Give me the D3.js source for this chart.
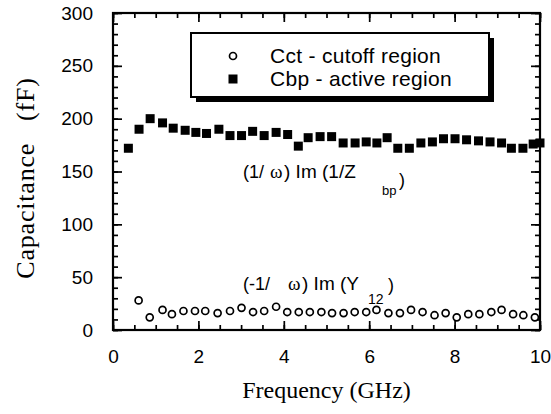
<!DOCTYPE html>
<html>
<head>
<meta charset="utf-8">
<script src="https://cdn.jsdelivr.net/npm/d3@7"></script>
<style>
  body { margin: 0; background: #fff; }
  svg { display: block; }
</style>
</head>
<body>
<div id="chart"></div>
<script>
// Cct - cutoff region : (-1/w) Im(Y12)
const cctFreq = [0.60, 0.86, 1.16, 1.38, 1.65, 1.92, 2.16, 2.45, 2.74, 3.01, 3.28, 3.54,
  3.82, 4.08, 4.35, 4.61, 4.88, 5.13, 5.40, 5.66, 5.93, 6.17, 6.45, 6.72,
  6.98, 7.25, 7.53, 7.79, 8.05, 8.32, 8.58, 8.86, 9.10, 9.37, 9.61, 9.88]
const cctCap = [28, 12, 19, 15, 18, 18, 18, 16, 18, 21, 17, 18,
  22, 17, 17, 17, 17, 16, 16, 17, 17, 19, 16, 16,
  19, 17, 14, 16, 12, 15, 15, 17, 19, 15, 14, 12]

// Cbp - active region : (1/w) Im(1/Zbp)
const cbpFreq = [0.36, 0.61, 0.87, 1.16, 1.41, 1.69, 1.94, 2.19, 2.48, 2.74, 3.01, 3.27,
  3.54, 3.82, 4.09, 4.34, 4.57, 4.85, 5.12, 5.39, 5.67, 5.93, 6.18, 6.42,
  6.67, 6.94, 7.21, 7.48, 7.74, 8.01, 8.28, 8.56, 8.83, 9.10, 9.33, 9.60, 9.84, 10.0]
const cbpCap = [172, 190, 200, 196, 191, 189, 187, 186, 190, 184, 184, 188,
  184, 187, 185, 174, 182, 183, 183, 177, 177, 178, 177, 182,
  172, 172, 177, 178, 181, 181, 180, 179, 178, 177, 172, 172, 176, 177]

const xTicks = [0, 2, 4, 6, 8, 10]
const yTicks = [0, 50, 100, 150, 200, 250, 300]
const legendLabels = ['Cct - cutoff region', 'Cbp - active region']

const width = 551
const height = 414
const margin = { left: 113, right: 11, top: 13, bottom: 84 }
const innerW = width - margin.left - margin.right
const innerH = height - margin.top - margin.bottom
const sans = "'Liberation Sans', Arial, sans-serif"
const serif = "'Liberation Serif', 'Times New Roman', serif"

const svg = d3.select('#chart')
  .append('svg')
  .attr('width', width)
  .attr('height', height)

const g = svg.append('g')
  .attr('transform', `translate(${margin.left},${margin.top})`)

const x = d3.scaleLinear().domain([0, 10]).range([0, innerW])
const y = d3.scaleLinear().domain([0, 300]).range([innerH, 0])

// major + minor ticks on all four sides, pointing inward
function drawAxis (axisFn, scale, pos, major, minor, labels) {
  const gMinor = g.append('g')
    .attr('transform', pos)
    .call(axisFn(scale).tickValues(minor).tickSize(-5).tickFormat(''))
  gMinor.select('.domain').remove()
  const gMajor = g.append('g')
    .attr('transform', pos)
    .call(axisFn(scale).tickValues(major).tickSize(-9).tickPadding(labels ? 20 : 0)
      .tickFormat(labels ? d3.format('d') : ''))
  gMajor.select('.domain').remove()
  g.selectAll('.tick line').attr('stroke', '#000').attr('stroke-width', 1.7)
  gMajor.selectAll('text')
    .attr('font-family', sans)
    .attr('font-size', 19)
    .attr('fill', '#000')
}

drawAxis(d3.axisBottom, x, `translate(0,${innerH})`, xTicks, x.ticks(20), true)
drawAxis(d3.axisTop, x, 'translate(0,0)', xTicks, x.ticks(20), false)
drawAxis(d3.axisLeft, y, 'translate(0,0)', yTicks, y.ticks(30), true)
drawAxis(d3.axisRight, y, `translate(${innerW},0)`, yTicks, y.ticks(30), false)

g.append('rect')
  .attr('width', innerW)
  .attr('height', innerH)
  .attr('fill', 'none')
  .attr('stroke', '#000')
  .attr('stroke-width', 2.2)

// data
g.selectAll('.cbp')
  .data(cbpFreq.map((f, i) => ({ f, c: cbpCap[i] })))
  .enter()
  .append('rect')
  .attr('class', 'cbp')
  .attr('x', d => x(d.f) - 4.5)
  .attr('y', d => y(d.c) - 4.5)
  .attr('width', 9)
  .attr('height', 9)
  .attr('fill', '#000')

g.selectAll('.cct')
  .data(cctFreq.map((f, i) => ({ f, c: cctCap[i] })))
  .enter()
  .append('circle')
  .attr('class', 'cct')
  .attr('cx', d => x(d.f))
  .attr('cy', d => y(d.c))
  .attr('r', 3.5)
  .attr('fill', '#fff')
  .attr('stroke', '#000')
  .attr('stroke-width', 1.7)

// legend box with drop shadow
const leg = svg.append('g').attr('transform', 'translate(191,33)')
leg.append('rect')
  .attr('x', 5).attr('y', 5)
  .attr('width', 298).attr('height', 64)
  .attr('fill', '#000')
leg.append('rect')
  .attr('width', 298).attr('height', 64)
  .attr('fill', '#fff')
  .attr('stroke', '#000')
  .attr('stroke-width', 2)
leg.append('circle')
  .attr('cx', 42).attr('cy', 23).attr('r', 3.5)
  .attr('fill', '#fff').attr('stroke', '#000').attr('stroke-width', 1.7)
leg.append('rect')
  .attr('x', 37.5).attr('y', 41.5).attr('width', 9).attr('height', 9)
  .attr('fill', '#000')
leg.selectAll('.lab')
  .data(legendLabels)
  .enter()
  .append('text')
  .attr('x', 79)
  .attr('y', (d, i) => 30 + i * 23)
  .attr('font-family', sans)
  .attr('font-size', 21)
  .attr('letter-spacing', 0.3)
  .text(d => d)

// annotations
function annot (parts) {
  const t = svg.append('text').attr('font-family', sans).attr('font-size', 18)
  parts.forEach(p => {
    t.append('tspan')
      .attr('x', p.x).attr('y', p.y)
      .attr('font-size', p.size || 18)
      .attr('font-family', p.serif ? serif : sans)
      .text(p.s)
  })
}
annot([
  { s: '(1/', x: 243, y: 178 },
  { s: 'ω', x: 270, y: 178, serif: true, size: 19 },
  { s: ') Im (1/Z', x: 284, y: 178, size: 19 },
  { s: 'bp', x: 382, y: 195, size: 13 },
  { s: ')', x: 399, y: 186 }
])
annot([
  { s: '(-1/', x: 243, y: 290 },
  { s: 'ω', x: 288, y: 290, serif: true, size: 19 },
  { s: ') Im (Y', x: 302, y: 290, size: 19 },
  { s: '12', x: 368, y: 304, size: 14 },
  { s: ')', x: 388, y: 291 }
])

// axis titles
svg.append('text')
  .attr('x', margin.left + innerW / 2)
  .attr('y', 398)
  .attr('text-anchor', 'middle')
  .attr('font-family', serif)
  .attr('font-size', 24)
  .text('Frequency (GHz)')

svg.append('text')
  .attr('transform', 'translate(34,178) rotate(-90)')
  .attr('text-anchor', 'middle')
  .attr('font-family', serif)
  .attr('font-size', 26)
  .attr('letter-spacing', 0.8)
  .style('white-space', 'pre')
  .text('Capacitance   (fF)')
</script>
</body>
</html>
